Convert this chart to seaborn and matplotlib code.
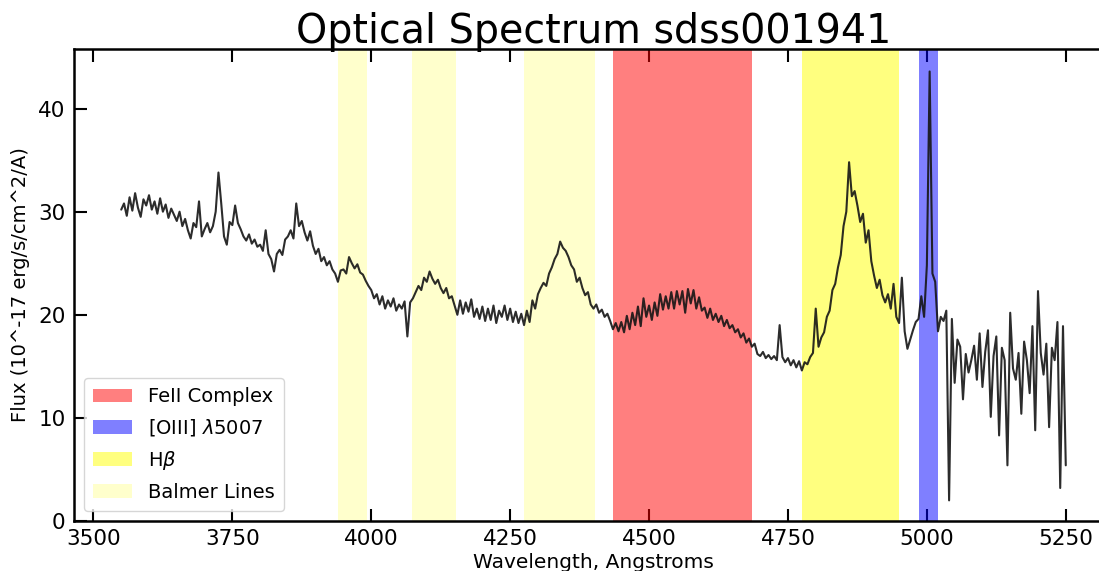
import numpy as np
import pandas as pd
import matplotlib
matplotlib.use("Agg")
import matplotlib.pyplot as plt
import seaborn as sns

# ---- data ----
wavelength = np.arange(3550, 5251, 5)

flux = [
    30.2, 30.8, 29.6, 31.4, 30.1, 31.8, 30.4, 29.5, 31.2, 30.6,   # 3550
    31.6, 30.2, 31.0, 29.8, 31.3, 30.0, 30.7, 29.4, 30.3, 29.7,   # 3600
    29.1, 30.0, 28.6, 29.3, 28.2, 27.4, 28.9, 28.5, 31.0, 27.6,   # 3650
    28.3, 28.9, 28.0, 28.6, 30.0, 33.8, 30.8, 27.6, 26.8, 29.0,   # 3700
    28.7, 30.6, 28.9, 28.3, 27.6, 27.2, 27.8, 26.9, 27.3, 26.6,   # 3750
    26.8, 26.2, 28.2, 25.9, 25.4, 24.2, 25.9, 26.3, 25.8, 27.3,   # 3800
    27.6, 28.2, 27.4, 30.8, 28.6, 29.1, 28.0, 27.2, 28.1, 26.7,   # 3850
    25.9, 26.4, 25.2, 25.6, 24.8, 25.2, 24.4, 24.0, 23.2, 24.3,   # 3900
    24.4, 24.0, 25.6, 25.0, 24.5, 24.9, 24.1, 23.9, 23.3, 22.8,   # 3950
    22.4, 21.6, 22.0, 21.0, 21.8, 20.6, 21.4, 20.8, 21.6, 20.4,   # 4000
    21.0, 20.6, 21.3, 17.9, 21.2, 21.6, 22.2, 22.8, 22.4, 23.6,   # 4050
    23.2, 24.2, 23.5, 23.0, 23.4, 22.6, 22.1, 22.6, 21.6, 21.8,   # 4100
    20.9, 20.0, 21.4, 20.1, 21.2, 20.3, 21.5, 19.8, 20.6, 19.6,   # 4150
    20.8, 19.4, 20.6, 19.5, 20.9, 19.2, 20.4, 19.8, 20.9, 19.5,   # 4200
    20.6, 19.3, 20.3, 19.2, 20.1, 19.0, 20.4, 19.3, 21.4, 20.6,   # 4250
    22.0, 22.6, 23.1, 22.8, 24.0, 24.6, 25.4, 25.9, 27.1, 26.5,   # 4300
    26.2, 25.6, 24.8, 24.4, 23.2, 23.6, 22.6, 21.9, 22.2, 21.0,   # 4350
    20.6, 21.0, 20.2, 20.5, 19.8, 20.1, 19.4, 18.6, 19.2, 18.4,   # 4400
    19.3, 18.3, 19.9, 18.6, 20.2, 19.0, 20.8, 18.9, 21.6, 19.8,   # 4450
    20.9, 19.5, 21.2, 19.9, 22.0, 20.5, 21.8, 20.6, 22.2, 20.6,   # 4500
    22.3, 21.0, 22.3, 20.2, 22.5, 21.1, 22.4, 20.6, 21.7, 20.4,   # 4550
    20.7, 19.7, 20.6, 19.5, 20.1, 19.3, 19.9, 18.9, 19.5, 18.7,   # 4600
    19.0, 18.3, 18.6, 17.8, 18.2, 17.3, 17.7, 16.9, 17.2, 16.2,   # 4650
    16.0, 16.4, 15.8, 16.1, 15.7, 16.0, 15.6, 19.0, 15.9, 15.4,   # 4700
    15.8, 15.1, 15.6, 14.9, 15.5, 14.6, 15.4, 15.2, 15.9, 16.3,   # 4750
    20.6, 16.9, 17.8, 18.3, 19.8, 20.4, 22.4, 23.0, 24.6, 25.8,   # 4800
    28.6, 30.0, 34.8, 31.5, 32.0, 30.6, 29.0, 29.8, 27.0, 28.2,   # 4850
    25.2, 23.8, 22.6, 23.4, 21.9, 21.2, 22.0, 20.6, 23.0, 19.8,   # 4900
    19.2, 23.6, 18.4, 16.7, 17.6, 18.5, 19.3, 19.6, 21.8, 19.8,   # 4950
    24.8, 43.6, 24.0, 23.2, 18.4, 19.8, 19.4, 20.4, 2.0, 19.6,    # 5000
    13.4, 17.6, 16.9, 11.8, 16.2, 14.4, 15.6, 17.0, 13.7, 18.2,   # 5050
    13.0, 16.4, 18.5, 10.1, 16.0, 17.9, 8.3, 16.8, 15.6, 5.4,     # 5100
    20.2, 14.8, 13.7, 16.3, 10.4, 17.4, 15.6, 12.4, 18.9, 8.8,    # 5150
    22.3, 16.3, 14.2, 17.2, 9.1, 16.8, 15.6, 19.3, 3.2, 18.9,     # 5200
    5.4,                                                          # 5250
]

# shaded regions (Angstrom ranges)
feii_range = (4435, 4685)
oiii_range = (4985, 5020)
hbeta_range = (4775, 4950)
balmer_ranges = [(3940, 3992), (4074, 4152), (4275, 4402)]

title = "Optical Spectrum sdss001941"
xlabel = "Wavelength, Angstroms"
ylabel = "Flux (10^-17 erg/s/cm^2/A)"
xticks = [3500, 3750, 4000, 4250, 4500, 4750, 5000, 5250]
yticks = [0, 10, 20, 30, 40]

df = pd.DataFrame({"wavelength": wavelength, "flux": flux})

sns.set_style("white")
plt.rcParams["font.family"] = ["DejaVu Sans"]
plt.rcParams["text.color"] = "black"
plt.rcParams["axes.labelcolor"] = "black"
plt.rcParams["xtick.color"] = "black"
plt.rcParams["ytick.color"] = "black"

fig = plt.figure(figsize=(10.99, 5.71), dpi=100)
ax = fig.add_axes([74 / 1099, 50 / 571, (1113 - 74) / 1099, (521 - 49) / 571])

ax.axvspan(*feii_range, color="red", alpha=0.5, lw=0, label="FeII Complex")
ax.axvspan(*oiii_range, color="blue", alpha=0.5, lw=0, label=r"[OIII] $\lambda$5007")
ax.axvspan(*hbeta_range, color="yellow", alpha=0.5, lw=0, label=r"H$\beta$")
for i, (a, b) in enumerate(balmer_ranges):
    ax.axvspan(a, b, color="yellow", alpha=0.2, lw=0,
               label="Balmer Lines" if i == 0 else None)

sns.lineplot(data=df, x="wavelength", y="flux", ax=ax, color="#151515",
             alpha=0.9, lw=1.5, estimator=None, sort=False, legend=False)

ax.set_xlim(3465, 5335)
ax.set_ylim(0, max(flux) * 1.05)
ax.set_xticks(xticks)
ax.set_yticks(yticks)
ax.tick_params(direction="in", top=True, right=True, bottom=True, left=True,
               length=9, width=1.5, labelsize=15.5, pad=6, colors="black")
for s in ax.spines.values():
    s.set_linewidth(1.8)
    s.set_color("black")

ax.set_title(title, fontsize=28.5, pad=4, color="black")
ax.set_xlabel(xlabel, fontsize=14.5, labelpad=3, color="black")
ax.set_ylabel(ylabel, fontsize=14, labelpad=6, color="black")

leg = ax.legend(loc="lower left", fontsize=14, frameon=True, borderpad=0.5,
                handlelength=2.0, labelspacing=0.55)
for t in leg.get_texts():
    t.set_color("black")

fig.savefig("out.png", dpi=100)
